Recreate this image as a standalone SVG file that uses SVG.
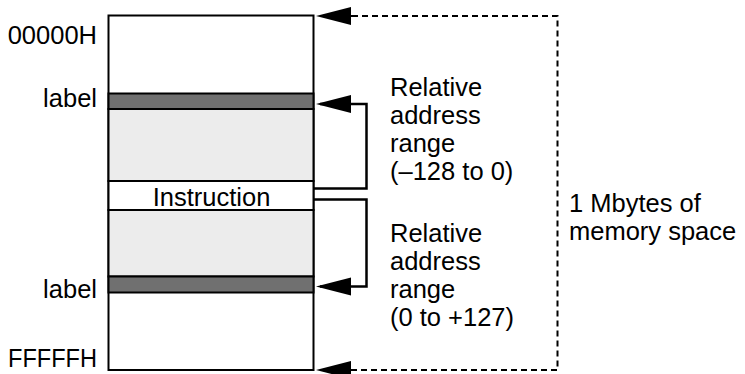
<svg xmlns="http://www.w3.org/2000/svg" width="745" height="374" viewBox="0 0 745 374">
<style>
  text { font-family: "Liberation Sans", Arial, Helvetica, sans-serif; font-size: 25.5px; fill: #000; }
  .r { text-anchor: end; }
  .m { text-anchor: middle; }
  .box { stroke: #000; stroke-width: 2; }
  .conn { fill: none; stroke: #000; stroke-width: 2.5; }
  .dash { fill: none; stroke: #000; stroke-width: 2; stroke-dasharray: 6 4; }
</style>
<defs>
  <marker id="ah" markerUnits="userSpaceOnUse" markerWidth="36" markerHeight="20" refX="31" refY="9" orient="auto">
    <path d="M0,0 L35,9 L0,18 z" fill="#000"/>
  </marker>
</defs>
<g id="memory">
  <rect class="box" x="108.5" y="15.5" width="205" height="354.5" fill="#fff"/>
</g>
<g id="label-top">
  <rect class="box" x="108.5" y="93.5" width="205" height="15.5" fill="#707070"/>
</g>
<g id="range-top">
  <rect class="box" x="108.5" y="109" width="205" height="72" fill="#ececec"/>
</g>
<g id="instruction">
  <rect class="box" x="108.5" y="181" width="205" height="29" fill="#fff"/>
  <text class="m" x="211.5" y="206">Instruction</text>
</g>
<g id="range-bottom">
  <rect class="box" x="108.5" y="210" width="205" height="66.5" fill="#ececec"/>
</g>
<g id="label-bottom">
  <rect class="box" x="108.5" y="276.5" width="205" height="16" fill="#707070"/>
</g>
<g id="addr-labels">
  <text class="r" x="97" y="44">00000H</text>
  <text class="r" x="97" y="107">label</text>
  <text class="r" x="97" y="298">label</text>
  <text class="r" x="97" y="367" textLength="89" lengthAdjust="spacingAndGlyphs">FFFFFH</text>
</g>
<g id="text-range-back">
  <text x="390" y="96">Relative</text>
  <text x="390" y="124">address</text>
  <text x="390" y="152">range</text>
  <text x="390" y="180">(–128 to 0)</text>
</g>
<g id="text-range-fwd">
  <text x="390" y="242">Relative</text>
  <text x="390" y="270">address</text>
  <text x="390" y="298">range</text>
  <text x="390" y="326">(0 to +127)</text>
</g>
<g id="text-memory">
  <text x="569" y="212">1 Mbytes of</text>
  <text x="569" y="240">memory space</text>
</g>
<g id="connectors">
  <path class="conn" d="M313.5,188.5 H366.5 V104 H320" marker-end="url(#ah)"/>
  <path class="conn" d="M313.5,199.5 H366.5 V286.5 H320" marker-end="url(#ah)"/>
  <path class="dash" d="M352,16 H557.5 V370 H352"/>
  <path d="M352,16 H320" stroke="#000" stroke-width="2" marker-end="url(#ah)"/>
  <path d="M352,370 H320" stroke="#000" stroke-width="2" marker-end="url(#ah)"/>
</g>
</svg>
